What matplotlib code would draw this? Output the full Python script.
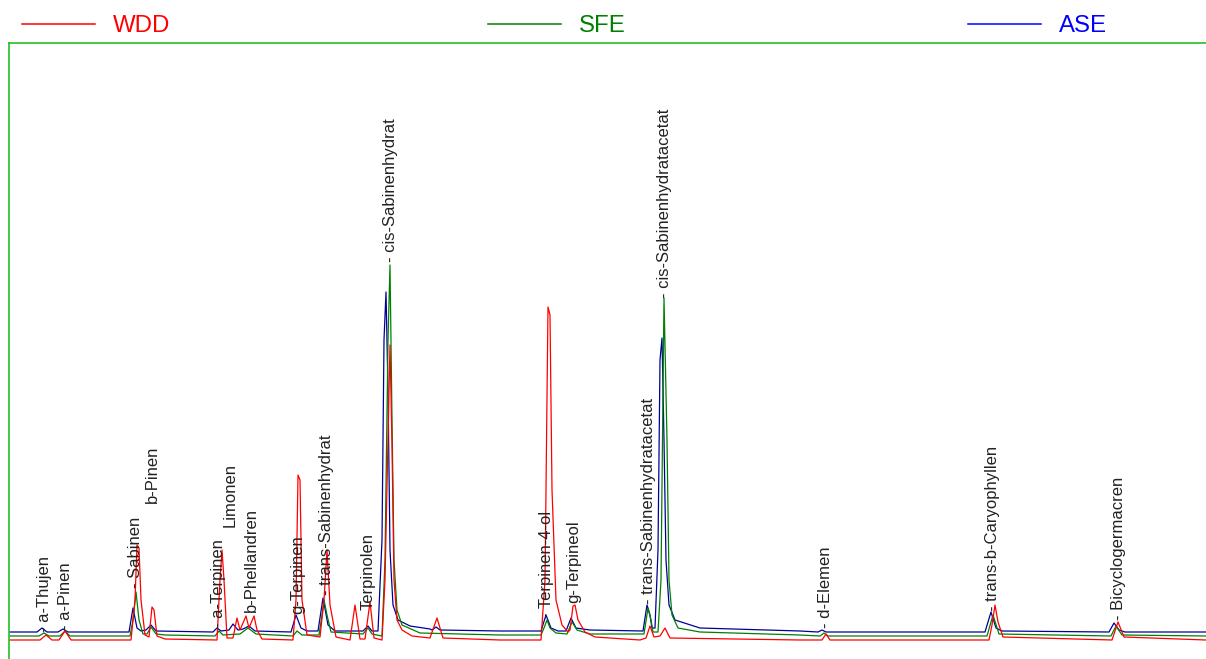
import matplotlib.pyplot as plt
from matplotlib.lines import Line2D

plt.rcParams['font.family'] = ['Liberation Sans', 'DejaVu Sans']

# ── Traces (retention position, detector signal) ──
wdd_t = [10, 40, 46, 52, 59, 65, 71, 131, 135, 137, 139, 141, 145, 149, 152, 154, 157, 165,
         217, 220, 222, 224, 227, 233, 237, 240, 246, 249, 254, 257, 262,
         293, 296, 298, 300, 302, 307, 320, 324, 327, 330, 336, 350, 355, 360,
         365, 370, 374, 382, 385, 388, 390, 392, 394, 397, 402, 412,
         430, 437, 443, 500, 541, 545, 548, 550, 552, 556, 562, 568,
         570, 573, 575, 578, 585, 595, 640, 646, 650, 654, 660, 665, 670,
         800, 822, 826, 830, 989, 992, 995, 998, 1003, 1112, 1118, 1124, 1206]
wdd_s = [0, 0, 5, 0, 0, 9, 0, 0, 40, 95, 92, 40, 5, 3, 33, 30, 4, 1,
         0, 60, 90, 60, 2, 2, 22, 10, 24, 12, 24, 10, 1,
         0, 40, 165, 160, 40, 5, 3, 40, 90, 35, 3, 0, 35, 1,
         1, 38, 2, 0, 60, 200, 295, 195, 60, 20, 10, 4,
         2, 22, 2, 0, 0, 60, 333, 325, 150, 40, 15, 8,
         10, 34, 35, 20, 8, 3, 0, 2, 14, 3, 4, 12, 2,
         0, 0, 6, 0, 0, 15, 35, 18, 3, 0, 18, 3, 0]

sfe_t = [10, 39, 44, 49, 60, 65, 70, 130, 133, 136, 139, 143, 147, 151, 156, 165,
         215, 219, 223, 240, 248, 256, 293, 297, 302, 319, 322, 324, 327, 331,
         363, 368, 372, 382, 385, 388, 390, 392, 394, 397, 402, 420, 500,
         541, 544, 547, 550, 556, 567, 572, 577, 590, 644, 648, 651, 653,
         658, 661, 664, 667, 669, 672, 678, 700, 800, 820, 824, 828,
         987, 993, 999, 1111, 1116, 1122, 1206]
sfe_s = [4, 4, 7, 4, 4, 9, 4, 4, 20, 48, 20, 6, 6, 13, 6, 5,
         4, 9, 5, 6, 12, 6, 4, 9, 5, 5, 25, 40, 25, 8,
         6, 12, 6, 4, 80, 300, 375, 220, 80, 30, 15, 7, 5,
         5, 12, 20, 12, 7, 6, 18, 10, 6, 6, 32, 20, 8,
         8, 60, 342, 200, 60, 25, 12, 8, 5, 4, 7, 4,
         4, 25, 6, 4, 14, 5, 4]

ase_t = [10, 37, 42, 47, 58, 63, 68, 129, 133, 137, 141, 146, 151, 156,
         213, 217, 221, 229, 233, 238, 243, 249, 255, 291, 296, 301, 307,
         318, 323, 328, 335, 363, 368, 372, 378, 382, 384, 386, 388, 390, 393, 398, 410, 430,
         432, 436, 440, 500, 541, 546, 551, 558, 566, 571, 576, 590,
         643, 647, 650, 652, 655, 658, 660, 662, 664, 666, 669, 675, 700, 800,
         818, 822, 826, 985, 991, 996, 1002, 1109, 1114, 1119, 1125, 1206]
ase_s = [8, 8, 12, 8, 8, 11, 8, 8, 32, 12, 9, 10, 15, 9,
         8, 12, 9, 10, 16, 10, 11, 14, 9, 8, 25, 12, 9,
         9, 42, 15, 9, 9, 14, 9, 9, 100, 300, 348, 250, 90, 35, 20, 14, 11,
         10, 13, 10, 9, 9, 25, 12, 9, 9, 22, 12, 10,
         9, 35, 25, 12, 12, 90, 280, 302, 200, 80, 35, 20, 12, 9,
         8, 10, 8, 8, 28, 12, 9, 8, 17, 10, 8, 8]

# ── Peak annotations: position, signal at label foot, name ──
peak_pos = [45, 66, 135, 152, 218, 230, 251, 298, 326, 368, 390,
            546, 574, 649, 664, 826, 993, 1118]
peak_lab = [8, 10, 52, 137, 12, 113, 28, 26, 45, 30, 378,
            22, 37, 36, 342, 12, 29, 20]
peak_names = ['- a-Thujen', '- a-Pinen', '- Sabinen', 'b-Pinen', '- a-Terpinen',
              'Limonen', 'b-Phellandren', 'g-Terpinen', '- trans-Sabinenhydrat',
              'Terpinolen', '- cis-Sabinenhydrat', '- Terpinen-4-ol', 'g-Terpineol',
              '- trans-Sabinenhydratacetat', '- cis-Sabinenhydratacetat',
              '- d-Elemen', '- trans-b-Caryophyllen', '- Bicyclogermacren']

series = ['WDD', 'SFE', 'ASE']
trace_colors = ['#ff0000', '#008000', '#000099']
legend_colors = ['#ff0000', '#008000', '#0000ff']
legend_x = [22 / 1206, 488 / 1206, 968 / 1206]

# ── Plot ─────────────────────────────────────────────────────
fig = plt.figure(figsize=(12.06, 6.59), dpi=100)
ax = fig.add_axes([9 / 1206, 0, 1 - 9 / 1206, 616 / 659])

ax.plot(ase_t, ase_s, color=trace_colors[2], lw=0.9)
ax.plot(sfe_t, sfe_s, color=trace_colors[1], lw=0.9)
ax.plot(wdd_t, wdd_s, color=trace_colors[0], lw=0.9)

for x, y, name in zip(peak_pos, peak_lab, peak_names):
    ax.text(x, y, name, rotation=90, ha='center', va='bottom',
            fontsize=12, color='#222222')

ax.set_xlim(9, 1206)
ax.set_ylim(-19, 597)
ax.set_xticks([])
ax.set_yticks([])
for side in ['bottom', 'right']:
    ax.spines[side].set_visible(False)
for side in ['left', 'top']:
    ax.spines[side].set_color('#22c022')
    ax.spines[side].set_linewidth(1.2)

# legend: three separate entries spread over the top
for name, col, x0 in zip(series, legend_colors, legend_x):
    h = Line2D([], [], color=col, lw=1.1)
    fig.legend([h], [name], loc='center left', bbox_to_anchor=(x0, 1 - 26 / 659),
               frameon=False, fontsize=17.3, handlelength=3.05, handletextpad=0.75,
               borderpad=0, borderaxespad=0, labelcolor=col)

fig.savefig('out.png', dpi=100)
